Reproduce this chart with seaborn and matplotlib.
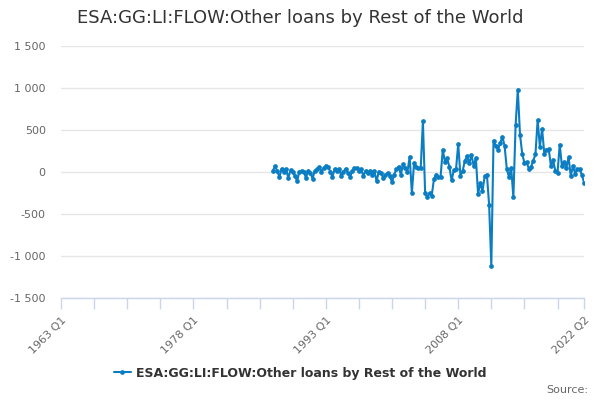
import matplotlib
matplotlib.use("Agg")
import matplotlib.pyplot as plt
import seaborn as sns
import pandas as pd
import numpy as np

title = "ESA:GG:LI:FLOW:Other loans by Rest of the World"
series_name = "ESA:GG:LI:FLOW:Other loans by Rest of the World"
start_quarter = "1987Q1"

values_1987_2003 = [
    15, 70, 10, -60, 40, 0, 35, -70, 20, 5,
    -45, -110, 5, 15, 5, -70, 15, -10, -80, 15,
    30, 60, 5, 45, 75, 65, 5, -60, 35, 15,
    40, -50, 5, 40, -10, -60, 15, 45, 45, 15,
    30, -45, 15, -10, 15, -30, 15, -110, 5, -10,
    -70, -40, -10, -50, -120, -30, 35, 65, -30, 90,
    50, 5,
    180, -250, 110, 65, 45, 45,
]
values_2004_2011 = [
    605, -250, -300, -250, -280, -85, -30, -60, -60, 265,
    120, 165, 60, -100, 20, 30, 335, -45, 10, 135,
    185, 105, 200, 75, 165, -265, -130, -225, -50, -30,
    -390, -1115,
]
values_2012_2022 = [
    375, 315, 265, 340, 420, 315, 40, -60, 50, -300,
    555, 980, 445, 220, 105, 115, 40, 60, 135, 210,
    620, 300, 515, 220, 265, 275, 75, 140, 15, -10,
    325, 70, 115, 50, 175, -45, 70, -20, 30, 30,
    -30, -125,
]

tick_labels = ["1963 Q1", "1978 Q1", "1993 Q1", "2008 Q1", "2022 Q2"]
y_ticks = [-1500, -1000, -500, 0, 500, 1000, 1500]

values = values_1987_2003 + values_2004_2011 + values_2012_2022
periods = pd.period_range(start=start_quarter, periods=len(values), freq="Q")
xnum = periods.year + (periods.quarter - 1) / 4.0
df = pd.DataFrame({"t": xnum, "v": values, "series": series_name})

sns.set_theme(style="white")
plt.rcParams["font.family"] = ["DejaVu Sans"]

color = "#0b7dc2"
fig = plt.figure(figsize=(6, 4), dpi=100)
ax = fig.add_axes([61 / 600, 102 / 400, 523 / 600, 252 / 400])

sns.lineplot(data=df, x="t", y="v", hue="series", palette=[color], marker="o",
             markersize=3.4, markeredgewidth=0, linewidth=1.5, ax=ax, legend=True)

x0, x1 = 1963.0, 2022.25
ax.set_xlim(x0, x1)
ax.set_ylim(-1500, 1500)

major = list(np.arange(x0, 2020.0, 3.75)) + [x1]
ax.set_xticks(major)
lab_pos = {1963.0: tick_labels[0], 1978.0: tick_labels[1], 1993.0: tick_labels[2],
           2008.0: tick_labels[3], x1: tick_labels[4]}
labs = [lab_pos.get(round(m, 2), "") for m in major]
ax.set_xticklabels(labs, rotation=45, ha="right", rotation_mode="anchor",
                   fontsize=8, color="#666666")
ax.tick_params(axis="x", bottom=True, length=8, color="#ccd6eb", width=1,
               direction="out", pad=4)

ax.set_yticks(y_ticks)
ax.set_yticklabels([f"{v:,}".replace(",", " ") for v in y_ticks], fontsize=8, color="#666666")
ax.tick_params(axis="y", left=False, length=0, pad=11)
ax.grid(axis="y", color="#e6e6e6", linewidth=1)
ax.grid(axis="x", visible=False)
for s in ["top", "right", "left"]:
    ax.spines[s].set_visible(False)
ax.spines["bottom"].set_color("#ccd6eb")
ax.spines["bottom"].set_linewidth(1)
ax.set_xlabel("")
ax.set_ylabel("")

handles, labels_ = ax.get_legend_handles_labels()
ax.get_legend().remove()
fig.legend(handles, labels_, loc="center", bbox_to_anchor=(0.5, 1 - 373 / 400),
           frameon=False, prop={"weight": "bold", "size": 9}, handlelength=1.4,
           handletextpad=0.4, labelcolor="#333333")

fig.text(0.5, 1 - 18 / 400, title, ha="center", va="center", fontsize=13, color="#333333")
fig.text(588 / 600, 1 - 390 / 400, "Source:", ha="right", va="center", fontsize=8, color="#666666")

fig.savefig("out.png", dpi=100)
